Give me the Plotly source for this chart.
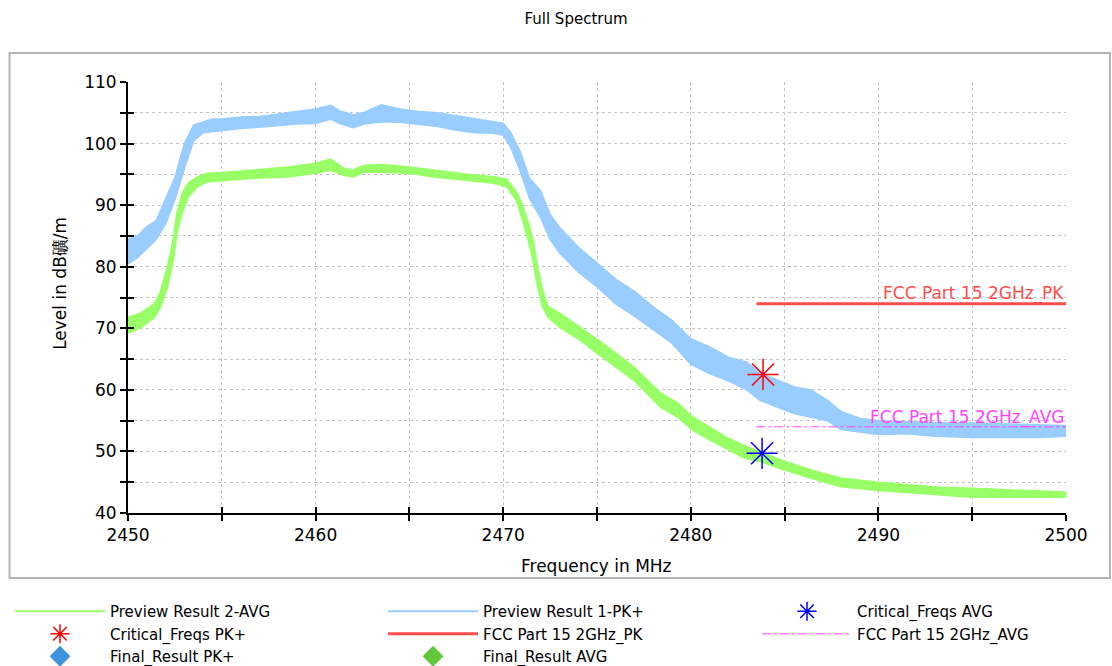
import plotly.graph_objects as go

# ---- Preview Result 1-PK+ : lower / upper edge of the peak trace (dBµV/m) ----
pk_freq = [2450.0, 2450.5, 2451.0, 2451.5, 2452.0, 2452.5, 2453.0, 2453.5, 2454.0, 2454.5,
           2455.0, 2456.0, 2457.0, 2458.0, 2459.0, 2460.0, 2460.8, 2461.3, 2462.0, 2462.6,
           2463.5, 2464.5, 2465.5, 2466.5, 2467.5, 2468.5, 2469.5, 2470.0, 2470.4, 2470.9,
           2471.4, 2472.0, 2472.5, 2473.0, 2474.0, 2475.0, 2476.0, 2477.0, 2478.0, 2479.0,
           2480.0, 2481.0, 2482.0, 2483.0, 2483.7, 2484.6, 2485.5, 2486.4, 2487.3, 2488.0,
           2489.0, 2490.0, 2491.5, 2493.0, 2495.0, 2497.0, 2498.6, 2500.0]
pk_lo = [80.5, 81.5, 83.0, 84.5, 87.0, 91.0, 96.0, 100.5, 101.8, 102.0,
         102.2, 102.5, 102.7, 103.0, 103.2, 103.3, 104.0, 103.3, 102.6, 103.2,
         103.6, 103.5, 103.2, 102.8, 102.2, 101.8, 101.7, 101.4, 99.5, 95.7,
         91.2, 88.0, 84.5, 82.3, 79.2, 76.8, 74.0, 72.0, 69.8, 67.6,
         64.2, 62.7, 61.5, 60.0, 58.3, 57.2, 56.2, 55.6, 55.0, 53.6,
         53.2, 52.8, 52.9, 52.5, 52.3, 52.3, 52.3, 52.5]
pk_hi = [84.5, 85.0, 86.5, 87.5, 91.0, 94.5, 100.0, 103.0, 103.5, 104.0,
         104.0, 104.3, 104.4, 104.8, 105.2, 105.6, 106.2, 105.3, 104.7, 105.1,
         106.3, 105.6, 105.2, 105.0, 104.5, 104.0, 103.6, 103.3, 101.8, 98.8,
         94.4, 92.3, 88.5, 86.4, 83.2, 80.6, 78.0, 76.0, 73.5, 71.3,
         68.3, 67.0, 65.3, 64.5, 62.7, 61.6, 60.5, 60.0, 58.3, 56.5,
         55.4, 55.0, 54.8, 54.7, 54.6, 54.4, 54.3, 54.2]

# ---- Preview Result 2-AVG : lower / upper edge of the average trace ----
avg_freq = [2450.0, 2450.7, 2451.4, 2451.7, 2452.1, 2452.4, 2452.6, 2452.9, 2453.2, 2453.7,
            2454.2, 2455.0, 2456.7, 2458.5, 2460.0, 2460.8, 2461.5, 2462.0, 2462.6, 2463.6,
            2465.0, 2466.3, 2468.1, 2469.5, 2470.2, 2470.7, 2471.0, 2471.3, 2471.6, 2471.8,
            2472.1, 2472.4, 2473.0, 2474.1, 2475.0, 2476.0, 2477.0, 2478.4, 2479.3, 2480.1,
            2481.0, 2481.9, 2482.8, 2483.7, 2485.0, 2486.5, 2488.0, 2490.0, 2493.3, 2495.0,
            2498.6, 2500.0]
avg_lo = [69.2, 70.2, 71.8, 73.3, 76.7, 81.0, 85.5, 89.0, 91.3, 93.0,
          93.8, 94.0, 94.4, 94.6, 95.2, 95.7, 94.9, 94.6, 95.4, 95.4,
          95.2, 94.6, 94.0, 93.6, 93.0, 90.8, 88.0, 84.8, 81.0, 77.4,
          73.5, 71.8, 70.2, 68.1, 66.0, 63.8, 61.5, 57.2, 55.6, 53.5,
          51.9, 50.5, 49.0, 48.4, 47.0, 45.6, 44.3, 43.7, 42.9, 42.6,
          42.6, 42.6]
avg_hi = [71.8, 72.5, 74.0, 75.7, 80.0, 84.3, 88.7, 92.0, 93.6, 94.6,
          95.2, 95.3, 95.7, 96.2, 96.8, 97.5, 96.0, 95.7, 96.5, 96.6,
          96.2, 95.7, 95.0, 94.6, 94.2, 92.2, 90.3, 87.6, 84.3, 80.6,
          76.2, 73.5, 72.5, 70.2, 68.2, 66.0, 63.6, 59.5, 57.9, 55.6,
          54.0, 52.3, 51.0, 49.9, 48.4, 46.9, 45.7, 45.0, 44.2, 44.0,
          43.6, 43.4]

# ---- Limit lines ----
limit_freq = [2483.5, 2500.0]
limit_pk = [74.0, 74.0]
limit_avg = [54.0, 54.0]

# ---- Critical frequencies ----
crit_pk_freq = [2483.85]
crit_pk_level = [62.5]
crit_avg_freq = [2483.8]
crit_avg_level = [49.7]

x_ticks = list(range(2450, 2501, 5))
y_ticks = list(range(40, 111, 5))
x_text = [str(v) if v % 10 == 0 else "" for v in x_ticks]
y_text = [str(v) if v % 10 == 0 else "" for v in y_ticks]

FONT = "DejaVu Sans, Liberation Sans, Arial, sans-serif"
GREEN = "#99ff66"
BLUE = "#99ccff"

fig = go.Figure()

# Average trace drawn as a band between its lower and upper edge
fig.add_trace(go.Scatter(x=avg_freq, y=avg_lo, mode="lines", name="Preview Result 2-AVG",
                         line=dict(color=GREEN, width=2), legend="legend"))
fig.add_trace(go.Scatter(x=avg_freq, y=avg_hi, mode="lines", fill="tonexty", fillcolor=GREEN,
                         line=dict(color=GREEN, width=1.5), showlegend=False))
# Peak trace band
fig.add_trace(go.Scatter(x=pk_freq, y=pk_lo, mode="lines", name="Preview Result 1-PK+",
                         line=dict(color=BLUE, width=2), legend="legend2"))
fig.add_trace(go.Scatter(x=pk_freq, y=pk_hi, mode="lines", fill="tonexty", fillcolor=BLUE,
                         line=dict(color=BLUE, width=1.5), showlegend=False))

# Overlay axes: critical markers and limits
fig.add_trace(go.Scatter(x=crit_avg_freq, y=crit_avg_level, mode="markers", name="Critical_Freqs AVG",
                         marker=dict(symbol="asterisk-open", size=26, color="#0000ff",
                                     line=dict(color="#0000ff", width=1.5)),
                         xaxis="x2", yaxis="y2", legend="legend3"))
fig.add_trace(go.Scatter(x=crit_pk_freq, y=crit_pk_level, mode="markers", name="Critical_Freqs PK+",
                         marker=dict(symbol="asterisk-open", size=26, color="#ff0000",
                                     line=dict(color="#ff0000", width=1.5)),
                         xaxis="x2", yaxis="y2", legend="legend"))
fig.add_trace(go.Scatter(x=limit_freq, y=limit_pk, mode="lines", name="FCC Part 15 2GHz_PK",
                         line=dict(color="#ff4d4d", width=3), xaxis="x2", yaxis="y2",
                         legend="legend2"))
fig.add_trace(go.Scatter(x=limit_freq, y=limit_avg, mode="lines", name="FCC Part 15 2GHz_AVG",
                         line=dict(color="#ff44ff", width=1, dash="dashdot"), xaxis="x2", yaxis="y2",
                         legend="legend3"))
fig.add_trace(go.Scatter(x=[None], y=[None], mode="markers", name="Final_Result PK+",
                         marker=dict(symbol="diamond", size=16, color="#3d94dd"),
                         xaxis="x2", yaxis="y2", legend="legend"))
fig.add_trace(go.Scatter(x=[None], y=[None], mode="markers", name="Final_Result AVG",
                         marker=dict(symbol="diamond", size=16, color="#62c83a"),
                         xaxis="x2", yaxis="y2", legend="legend2"))

# Limit line labels
fig.add_annotation(x=2500, y=74, xref="x2", yref="y2", text="FCC Part 15 2GHz_PK",
                   showarrow=False, xanchor="right", yanchor="bottom", yshift=-2,
                   font=dict(family=FONT, size=17, color="#ff4d4d"))
fig.add_annotation(x=2500, y=54, xref="x2", yref="y2", text="FCC Part 15 2GHz_AVG",
                   showarrow=False, xanchor="right", yanchor="bottom", yshift=-3,
                   font=dict(family=FONT, size=17, color="#ff44ff"))

# Axis titles
fig.add_annotation(x=0.499, y=-0.123, xref="paper", yref="paper", text="Frequency in MHz",
                   showarrow=False, xanchor="center", yanchor="middle",
                   font=dict(family=FONT, size=17, color="black"))
fig.add_annotation(x=-0.0725, y=0.534, xref="paper", yref="paper", text="Level in dB礦/m",
                   showarrow=False, textangle=-90, xanchor="center", yanchor="middle",
                   font=dict(family=FONT, size=17, color="black"))

# Outer frame around the chart area
fig.add_shape(type="rect", xref="paper", yref="paper", x0=-0.1263, x1=1.0469, y0=-0.1508, y1=1.0673,
              line=dict(color="#b4b4b4", width=2), layer="below")

axis_common = dict(showgrid=True, gridcolor="#c4c4c4", griddash="dot", gridwidth=1,
                   zeroline=False, showline=True, linecolor="black", linewidth=2,
                   ticks="outside", ticklen=6, tickwidth=2, tickcolor="black",
                   tickfont=dict(family=FONT, size=17, color="black"))
overlay_common = dict(showgrid=False, zeroline=False, showline=False, ticks="inside",
                      ticklen=6, tickwidth=2, tickcolor="black", showticklabels=False)

legend_common = dict(orientation="v", yanchor="top", xanchor="left", itemwidth=90,
                     font=dict(family=FONT, size=15, color="black"),
                     bgcolor="rgba(0,0,0,0)", borderwidth=0, traceorder="normal")

fig.update_layout(
    width=1112, height=666,
    margin=dict(l=128, r=46, t=82, b=153, autoexpand=False),
    paper_bgcolor="white", plot_bgcolor="white",
    title=dict(text="Full Spectrum", x=0.518, xanchor="center", y=0.9715, yanchor="middle",
               font=dict(family=FONT, size=15, color="black")),
    xaxis=dict(range=[2450, 2500], tickvals=x_ticks, ticktext=x_text, **axis_common),
    yaxis=dict(range=[40, 110], tickvals=y_ticks, ticktext=y_text, **axis_common),
    xaxis2=dict(range=[2450, 2500], tickvals=x_ticks, overlaying="x", anchor="y2", **overlay_common),
    yaxis2=dict(range=[40, 110], tickvals=y_ticks, overlaying="y", anchor="x2", **overlay_common),
    legend=dict(x=-0.1258, y=-0.1903, **legend_common),
    legend2=dict(x=0.2719, y=-0.1903, **legend_common),
    legend3=dict(x=0.6706, y=-0.1903, **legend_common),
    showlegend=True,
)

fig.write_html("out.html")
